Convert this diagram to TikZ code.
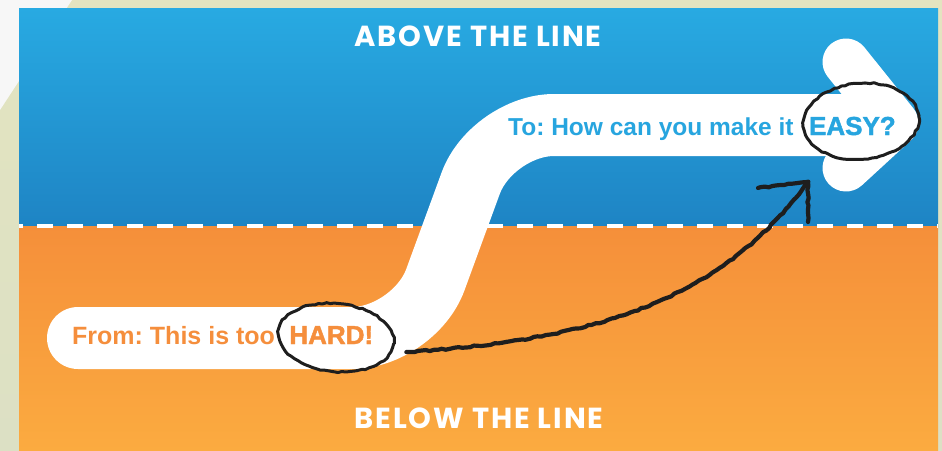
\documentclass[tikz,border=0pt]{standalone}
\usepackage{fontspec}
\setmainfont{Liberation Sans}
\newfontfamily\headfont{Poppins}[LetterSpace=6.5]
\newfontfamily\heavyfont{Liberation Sans}[FakeBold=1.6]
\usepackage{tikz}
\usetikzlibrary{calc,positioning,shapes.geometric,decorations.pathmorphing}
\frenchspacing

\definecolor{skyTop}{HTML}{28AAE2}
\definecolor{skyBot}{HTML}{1E84C4}
\definecolor{sunTop}{HTML}{F58F3A}
\definecolor{sunBot}{HTML}{FBAB40}
\definecolor{khaki}{HTML}{E3E4C0}
\definecolor{khakiLow}{HTML}{DCE0C4}
\definecolor{hardOrange}{HTML}{F58E3C}
\definecolor{easyBlue}{HTML}{27A5DF}
\definecolor{ink}{HTML}{1E1E1E}

\begin{document}
\begin{tikzpicture}[x=1pt,y=-1pt,
heading/.style={text=white,font=\headfont\bfseries\fontsize{29}{29}\selectfont},
fromtext/.style={text=hardOrange,font=\bfseries\fontsize{25}{25}\selectfont,inner sep=0pt},
totext/.style={text=easyBlue,font=\bfseries\fontsize{24.5}{25}\selectfont,inner sep=0pt},
bigword/.style={font=\heavyfont\bfseries\fontsize{26}{26}\selectfont,inner sep=0pt},
ribbon/.style={white,line width=62pt,line cap=round,rounded corners=62pt},
chevron/.style={white,line width=47pt,line cap=round,line join=round},
sketch/.style={ink,line width=3pt,line cap=round,line join=round,decorate,
  decoration={random steps,segment length=4pt,amplitude=0.7pt}},
]
\useasboundingbox (0,0) rectangle (942,450);

% backdrop
\shade[top color=khaki,bottom color=khakiLow] (0,0) rectangle (942,450);
\fill[white!97!black] (0,0) -- (72,0) -- (0,110) -- cycle;
\shade[top color=skyTop,bottom color=skyBot] (19,8) rectangle (938,226);
\shade[top color=sunTop,bottom color=sunBot] (19,226) rectangle (938,450);
\draw[white,line width=4pt,dash pattern=on 16pt off 14pt,dash phase=12pt] (19,226) -- (938,226);

% the road from hard to easy
\draw[ribbon] (78,338) -- (414,338) -- (492,125) -- (850,125);
\draw[chevron] (846,62) -- (895,123) -- (846,168);

\node[heading] (above) at (478,36) {ABOVE THE LINE};
\node[heading] (below) at (479,418) {BELOW THE LINE};

\node[fromtext,anchor=base west] (fromlbl) at (72,344) {From: This is too};
\node[bigword,text=hardOrange,base right=14pt of fromlbl] (hardword) {HARD!};
\node[totext,anchor=base west] (tolbl) at (508,135) {To: How can you make it};
\node[bigword,text=easyBlue,base right=15pt of tolbl] (easyword) {EASY?};

% scribbles
\draw[sketch,rotate around={-6:($(hardword.center)+(5,2)$)}] ($(hardword.center)+(5,2)$) ellipse [x radius=58,y radius=34];
\draw[sketch,rotate around={5:($(easyword.center)+(9,-4)$)}] ($(easyword.center)+(9,-4)$) ellipse [x radius=58,y radius=38];
\coordinate (easytip) at (808,182);
\draw[sketch,line width=4.2pt] ($(hardword.east)+(33,17)$) .. controls +(190,-12) and +(-87,118) .. (easytip);
\draw[sketch,line width=4.2pt] (easytip) -- ++(-50,6);
\draw[sketch,line width=4.2pt] (easytip) -- ++(0,40);

\end{tikzpicture}
\end{document}
